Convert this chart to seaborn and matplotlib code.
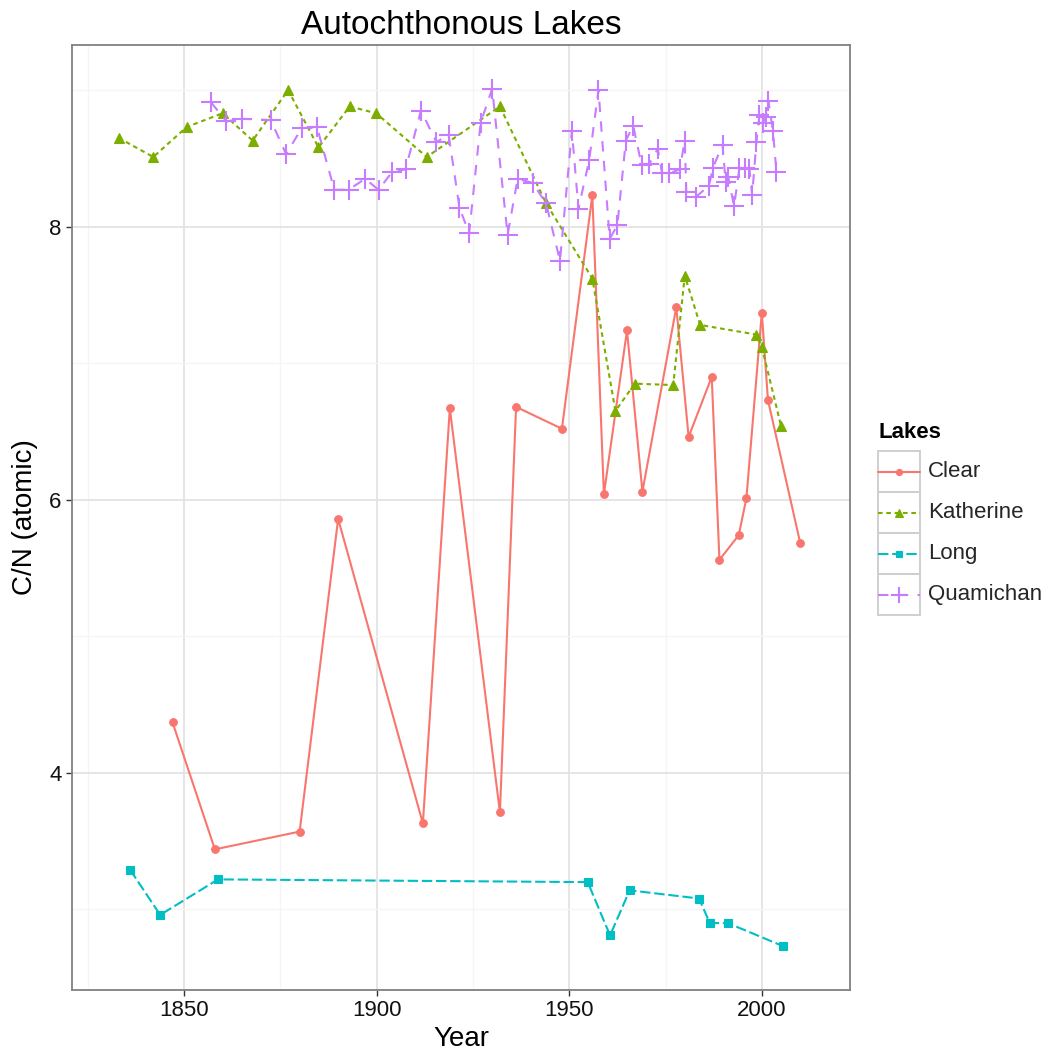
import numpy as np
import pandas as pd
import matplotlib
matplotlib.use("Agg")
import matplotlib.pyplot as plt
import seaborn as sns
from matplotlib.lines import Line2D
from matplotlib.patches import Rectangle

# ---- C/N ratios of autochthonous lake sediments by year ----
clear_year = [1847, 1858, 1880, 1890, 1912, 1919, 1932, 1936.2, 1948.1, 1956,
              1959, 1965, 1969, 1977.8, 1981, 1987, 1989, 1994, 1996, 2000,
              2001.6, 2010]
clear_cn = [4.37, 3.44, 3.57, 5.86, 3.63, 6.67, 3.71, 6.68, 6.52, 8.23,
            6.04, 7.24, 6.06, 7.41, 6.46, 6.90, 5.56, 5.74, 6.01, 7.37,
            6.73, 5.68]

katherine_year = [1833, 1842, 1850.7, 1860, 1867.8, 1877, 1884.9, 1893, 1899.9,
                  1913, 1932, 1944, 1956, 1962, 1967, 1977, 1980, 1984, 1998.5,
                  2000, 2005]
katherine_cn = [8.65, 8.51, 8.73, 8.83, 8.63, 9.00, 8.58, 8.88, 8.83,
                8.51, 8.88, 8.17, 7.62, 6.65, 6.85, 6.84, 7.64, 7.28, 7.21,
                7.12, 6.54]

long_year = [1836, 1843.8, 1858.8, 1954.8, 1960.6, 1965.7, 1983.7, 1986.5,
             1991.2, 2005.6]
long_cn = [3.29, 2.96, 3.22, 3.20, 2.81, 3.14, 3.08, 2.90, 2.90, 2.73]

quamichan_year = [1857, 1861, 1865, 1872.5, 1876.5, 1880.5, 1884.5, 1889,
                  1892.7, 1897, 1900.5, 1904, 1907.5, 1911.5, 1915.5, 1918.7,
                  1921.5, 1924, 1927, 1930, 1934, 1936.6, 1940.5, 1944,
                  1947.6, 1950.7, 1952.4, 1955.2, 1957.6, 1960.5, 1962.5,
                  1964.7, 1966.6, 1968.8, 1970.8, 1973, 1974.1, 1976, 1978.7,
                  1980, 1980.4, 1983, 1986.3, 1987.3, 1989.8, 1990.6, 1991.3,
                  1992.8, 1994.2, 1995.6, 1996.8, 1997.5, 1998.6, 1999.4,
                  2000.2, 2001.1, 2001.7, 2002.9, 2003.8]
quamichan_cn = [8.91, 8.77, 8.79, 8.78, 8.53, 8.72, 8.73, 8.27,
                8.27, 8.35, 8.27, 8.40, 8.42, 8.85, 8.62, 8.67,
                8.14, 7.95, 8.76, 9.01, 7.94, 8.35, 8.32, 8.17,
                7.75, 8.70, 8.13, 8.49, 9.00, 7.91, 8.01,
                8.63, 8.74, 8.45, 8.46, 8.57, 8.39, 8.39, 8.42,
                8.63, 8.25, 8.22, 8.30, 8.43, 8.60, 8.33, 8.36,
                8.15, 8.43, 8.43, 8.42, 8.23, 8.62, 8.82,
                8.76, 8.80, 8.92, 8.70, 8.40]

lakes = ["Clear", "Katherine", "Long", "Quamichan"]
x_ticks = [1850, 1900, 1950, 2000]
y_ticks = [4, 6, 8]

frames = [
    pd.DataFrame({"Year": clear_year, "CN": clear_cn, "Lake": "Clear"}),
    pd.DataFrame({"Year": katherine_year, "CN": katherine_cn, "Lake": "Katherine"}),
    pd.DataFrame({"Year": long_year, "CN": long_cn, "Lake": "Long"}),
    pd.DataFrame({"Year": quamichan_year, "CN": quamichan_cn, "Lake": "Quamichan"}),
]
df = pd.concat(frames, ignore_index=True)

# ---- styling ----
sns.set_theme(style="white")
plt.rcParams["font.family"] = ["Liberation Sans", "DejaVu Sans"]

LW = 1.5
styles = {
    "Clear": dict(color="#F8766D", linestyle="-", marker="o",
                  markersize=5.5, markeredgewidth=0.8),
    "Katherine": dict(color="#7CAE00", linestyle=(0, (2.2, 1.8)), marker="^",
                      markersize=7, markeredgewidth=0.8),
    "Long": dict(color="#00BFC4", linestyle=(0, (5, 1.8)), marker="s",
                 markersize=6, markeredgewidth=0.8),
    "Quamichan": dict(color="#C77CFF", linestyle=(0, (5, 4.5)), marker="+",
                      markersize=14, markeredgewidth=1.5),
}

fig = plt.figure(figsize=(10.47, 10.62), dpi=100)
W, H = 1047, 1062
ax = fig.add_axes([72 / W, 1 - 990 / H, (850 - 72) / W, (990 - 45) / H])

for lake in lakes:
    st = styles[lake]
    sub = df[df["Lake"] == lake]
    sns.lineplot(data=sub, x="Year", y="CN", ax=ax, estimator=None, sort=True,
                 legend=False, color=st["color"], linestyle=st["linestyle"],
                 linewidth=LW, marker=st["marker"], markersize=st["markersize"],
                 markeredgecolor=st["color"], markerfacecolor=st["color"],
                 markeredgewidth=st["markeredgewidth"])

# ---- axes ----
ax.set_xlim(1820.9, 2022.9)
ax.set_ylim(2.41, 9.33)
ax.set_xticks(x_ticks)
ax.set_yticks(y_ticks)
ax.set_xticks([1825, 1875, 1925, 1975], minor=True)
ax.set_yticks([3, 5, 7, 9], minor=True)
ax.grid(which="major", color="#E3E3E3", linewidth=1.3)
ax.grid(which="minor", color="#F5F5F5", linewidth=1.0)
ax.set_axisbelow(True)
for sp in ax.spines.values():
    sp.set_visible(True)
    sp.set_color("#808080")
    sp.set_linewidth(1.3)
ax.tick_params(which="major", direction="out", length=4.5, width=1.0,
               color="#333333", labelsize=16, labelcolor="#111111", pad=3,
               bottom=True, left=True)
ax.tick_params(which="minor", length=0)

ax.set_xlabel("Year", fontsize=20, labelpad=3, color="black")
ax.set_ylabel("C/N (atomic)", fontsize=20, labelpad=8, color="black")
ax.set_title("Autochthonous Lakes", fontsize=24, pad=8, color="black")

# ---- legend ----
handles = [Line2D([0], [0], color=styles[k]["color"], linestyle=styles[k]["linestyle"],
                  linewidth=LW, marker=styles[k]["marker"],
                  markersize=styles[k]["markersize"] * 0.8,
                  markeredgecolor=styles[k]["color"],
                  markerfacecolor=styles[k]["color"],
                  markeredgewidth=styles[k]["markeredgewidth"])
           for k in lakes]
leg = fig.legend(handles, lakes, loc="upper left",
                 bbox_to_anchor=(878 / W, 1 - 450 / H), frameon=False,
                 fontsize=16, handlelength=1.9,
                 handleheight=2.46, labelspacing=0.0, handletextpad=0.35,
                 borderpad=0.0, borderaxespad=0.0)
fig.text(879 / W, 1 - 432 / H, "Lakes", fontsize=16, fontweight="bold",
         ha="left", va="center", color="black")

fig.canvas.draw()
renderer = fig.canvas.get_renderer()
inv = fig.transFigure.inverted()
for h, t in zip(leg.legend_handles, leg.get_texts()):
    hb = h.get_window_extent(renderer)
    tb = t.get_window_extent(renderer)
    cx = (hb.x0 + hb.x1) / 2
    hy = (hb.y0 + hb.y1) / 2
    ty = (tb.y0 + tb.y1) / 2
    # align the key line with the label's vertical centre
    shift_pt = (ty - hy) * 72.0 / fig.dpi
    h.set_ydata([y + shift_pt for y in h.get_ydata()])
    (fx0, fy0) = inv.transform((cx - 21, ty - 20.5))
    (fx1, fy1) = inv.transform((cx + 21, ty + 20.5))
    fig.add_artist(Rectangle((fx0, fy0), fx1 - fx0, fy1 - fy0,
                             transform=fig.transFigure, facecolor="none",
                             edgecolor="#CFCFCF", linewidth=1.4))

fig.savefig("out.png", dpi=100)
